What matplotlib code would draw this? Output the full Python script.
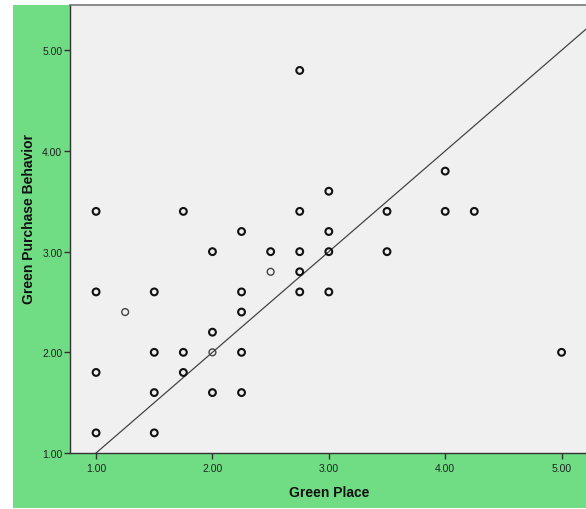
import matplotlib
matplotlib.use("Agg")
import matplotlib.pyplot as plt
from matplotlib.patches import Rectangle

# Data
green_place = [1.00, 1.75, 2.75, 2.25, 2.00, 2.50, 2.75, 2.50, 2.75, 1.00, 1.50, 2.25, 2.75,
               1.25, 2.25, 2.00, 1.50, 1.75, 2.00, 2.25, 1.00, 1.75, 1.50, 2.00, 2.25,
               1.00, 1.50, 2.75, 4.00, 3.00, 3.50, 4.00, 4.25, 3.00, 3.00, 3.50, 3.00,
               5.00]
green_purchase = [3.40, 3.40, 3.40, 3.20, 3.00, 3.00, 3.00, 2.80, 2.80, 2.60, 2.60, 2.60, 2.60,
                  2.40, 2.40, 2.20, 2.00, 2.00, 2.00, 2.00, 1.80, 1.80, 1.60, 1.60, 1.60,
                  1.20, 1.20, 4.80, 3.80, 3.60, 3.40, 3.40, 3.40, 3.20, 3.00, 3.00, 2.60,
                  2.00]
# overlapping cases (drawn darker) vs single cases
overlap = [2, 2, 2, 2, 2, 2, 2, 1, 2, 2, 2, 2, 2,
           1, 2, 2, 2, 2, 1, 2, 2, 2, 2, 2, 2,
           2, 2, 2, 2, 2, 2, 2, 2, 2, 2, 2, 2,
           2]
line_x = [1.0, 5.6]
line_y = [1.0, 5.6]
x_ticks = [1.0, 2.0, 3.0, 4.0, 5.0]
y_ticks = [1.0, 2.0, 3.0, 4.0, 5.0]

plt.rcParams['font.family'] = ['Liberation Sans', 'DejaVu Sans']

W, H = 586, 510
fig = plt.figure(figsize=(W / 100, H / 100), dpi=100)
fig.patch.set_facecolor('white')

bg = fig.add_axes([13 / W, 1 / H, 1 - 13 / W, (509 - 6) / H])
bg.set_zorder(0)
bg.add_patch(Rectangle((0, 0), 1, 1, transform=bg.transAxes,
                       facecolor='#70DD85', edgecolor='none'))
bg.set_axis_off()

ax = fig.add_axes([70 / W, 1 - 454 / H, 1 - 70 / W, (454 - 6) / H])
ax.set_zorder(1)
ax.set_facecolor('#F0F0F0')
ax.set_xlim(0.776, 5.21)
ax.set_ylim(1.0, 5.45)

ax.plot(line_x, line_y, color='#444444', lw=0.9, zorder=2)

single_x = [x for x, c in zip(green_place, overlap) if c == 1]
single_y = [y for y, c in zip(green_purchase, overlap) if c == 1]
multi_x = [x for x, c in zip(green_place, overlap) if c > 1]
multi_y = [y for y, c in zip(green_purchase, overlap) if c > 1]
ax.scatter(multi_x, multi_y, s=24, facecolors='none', edgecolors='#111111',
           linewidths=1.5, zorder=3, clip_on=False)
ax.scatter(single_x, single_y, s=24, facecolors='none', edgecolors='#444444',
           linewidths=1.0, zorder=3, clip_on=False)

ax.set_xticks(x_ticks)
ax.set_yticks(y_ticks)
ax.set_xticklabels([f"{v:.2f}" for v in x_ticks])
ax.set_yticklabels([f"{v:.2f}" for v in y_ticks])
ax.tick_params(axis='both', direction='out', length=4, width=1, color='#333333',
               labelsize=7.5, labelcolor='#222222', pad=1.5)
ax.tick_params(axis='x', pad=3)

for side in ['left', 'bottom']:
    ax.spines[side].set_color('#333333')
    ax.spines[side].set_linewidth(1.0)
ax.spines['top'].set_color('#777777')
ax.spines['top'].set_linewidth(1.2)
ax.spines['right'].set_visible(False)

fig.text(329 / W, 1 - 493 / H, 'Green Place', ha='center', va='center',
         fontsize=10, fontweight='bold', color='#111111', zorder=5)
fig.text(29 / W, 1 - 219 / H, 'Green Purchase Behavior', ha='center', va='center',
         rotation=90, fontsize=10, fontweight='bold', color='#111111', zorder=5)

fig.savefig('out.png', dpi=100, facecolor=fig.get_facecolor())
